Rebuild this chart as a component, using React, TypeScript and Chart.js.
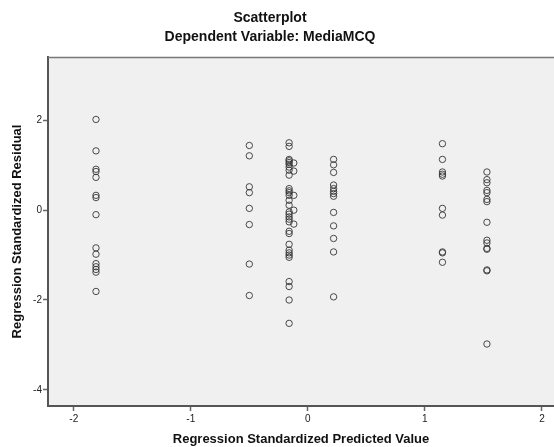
import React, { useEffect, useRef } from "react";
import { Chart, registerables } from "chart.js";

Chart.register(...registerables);

const chartTitle = "Scatterplot";
const chartSubtitle = "Dependent Variable: MediaMCQ";
const xAxisTitle = "Regression Standardized Predicted Value";
const yAxisTitle = "Regression Standardized Residual";

const xTickValues = [-2, -1, 0, 1, 2];
const yTickValues = [-4, -2, 0, 2];

const predictedGroups = [-1.81, -0.5, -0.16, -0.12, 0.22, 1.15, 1.53];

const residualsG1 = [2.02, 1.32, 0.91, 0.86, 0.73, 0.33, 0.28, -0.1, -0.84, -0.98, -1.19, -1.26, -1.32, -1.38, -1.81];
const residualsG2 = [1.44, 1.21, 0.52, 0.39, 0.04, -0.32, -1.2, -1.9];
const residualsG3 = [1.5, 1.42, 1.13, 1.1, 1.06, 1.02, 0.96, 0.89, 0.78, 0.48, 0.43, 0.39, 0.33, 0.22, 0.11, -0.04, -0.09, -0.15, -0.2, -0.26, -0.47, -0.52, -0.76, -0.89, -0.95, -1.0, -1.05, -1.59, -1.7, -2.0, -2.52];
const residualsG4 = [1.05, 0.87, 0.33, 0.0, -0.31];
const residualsG5 = [1.13, 1.01, 0.84, 0.56, 0.48, 0.42, 0.37, 0.31, -0.05, -0.35, -0.63, -0.93, -1.93];
const residualsG6 = [1.48, 1.13, 0.85, 0.8, 0.76, 0.04, -0.11, -0.93, -0.95, -1.16];
const residualsG7 = [0.85, 0.68, 0.61, 0.44, 0.39, 0.24, 0.19, -0.27, -0.67, -0.73, -0.85, -0.87, -1.33, -1.35, -2.98];

const residualGroups = [residualsG1, residualsG2, residualsG3, residualsG4, residualsG5, residualsG6, residualsG7];

const FONT = "'Liberation Sans', Arial, sans-serif";

export default function App() {
  const canvasRef = useRef<HTMLCanvasElement | null>(null);

  useEffect(() => {
    document.body.style.margin = "0";
    const canvas = canvasRef.current;
    if (!canvas) return;

    const points: { x: number; y: number }[] = [];
    predictedGroups.forEach((px, i) => {
      residualGroups[i].forEach((r) => points.push({ x: px, y: r }));
    });

    const framePlugin = {
      id: "frame",
      beforeDraw(chart: any) {
        const { ctx, chartArea, width, height } = chart;
        ctx.save();
        ctx.fillStyle = "#ffffff";
        ctx.fillRect(0, 0, width, height);
        ctx.fillStyle = "#f0f0f0";
        ctx.fillRect(chartArea.left, chartArea.top, chartArea.right - chartArea.left, chartArea.bottom - chartArea.top);
        ctx.fillStyle = "#111";
        ctx.textAlign = "center";
        ctx.textBaseline = "middle";
        ctx.font = `bold 14px ${FONT}`;
        ctx.fillText(chartTitle, 270, 18);
        ctx.fillText(chartSubtitle, 270, 37);
        ctx.restore();
      },
      afterDraw(chart: any) {
        const { ctx, chartArea } = chart;
        ctx.save();
        ctx.strokeStyle = "#777";
        ctx.lineWidth = 1.5;
        ctx.beginPath();
        ctx.moveTo(chartArea.left, chartArea.top + 0.5);
        ctx.lineTo(chartArea.right, chartArea.top + 0.5);
        ctx.stroke();
        ctx.restore();
      },
    };

    const chart = new Chart(canvas, {
      type: "scatter",
      data: {
        datasets: [
          {
            data: points,
            pointRadius: 3.2,
            pointHoverRadius: 3.2,
            pointBorderWidth: 1,
            pointBorderColor: "rgba(55,55,55,0.9)",
            pointBackgroundColor: "rgba(0,0,0,0)",
            showLine: false,
            clip: false,
          },
        ],
      },
      options: {
        responsive: false,
        animation: false,
        devicePixelRatio: 1,
        layout: { autoPadding: false, padding: { top: 57, left: 0, right: 0, bottom: 0 } },
        plugins: { legend: { display: false }, tooltip: { enabled: false }, title: { display: false } },
        scales: {
          x: {
            type: "linear",
            min: -2.22,
            max: 2.103,
            afterFit: (scale: any) => {
              scale.height = 41;
            },
            afterBuildTicks: (scale: any) => {
              scale.ticks = xTickValues.map((v) => ({ value: v }));
            },
            grid: { display: true, drawOnChartArea: false, drawTicks: true, tickLength: 5, tickColor: "#666", tickWidth: 1.5 },
            border: { display: true, color: "#555", width: 2 },
            ticks: { color: "#222", padding: 2, font: { size: 10, family: FONT }, maxRotation: 0 },
            title: {
              display: true,
              text: xAxisTitle,
              color: "#111",
              font: { size: 13, weight: "bold", family: FONT },
              padding: { top: 0, bottom: 0 },
            },
          },
          y: {
            type: "linear",
            min: -4.36,
            max: 3.41,
            afterFit: (scale: any) => {
              scale.width = 48;
            },
            afterBuildTicks: (scale: any) => {
              scale.ticks = yTickValues.map((v) => ({ value: v }));
            },
            grid: { display: true, drawOnChartArea: false, drawTicks: true, tickLength: 5, tickColor: "#666", tickWidth: 1.5 },
            border: { display: true, color: "#555", width: 2 },
            ticks: { color: "#222", padding: 1, font: { size: 10, family: FONT } },
            title: {
              display: true,
              text: yAxisTitle,
              color: "#111",
              font: { size: 13, weight: "bold", family: FONT },
              padding: { top: 10, bottom: 0 },
            },
          },
        },
      },
      plugins: [framePlugin],
    });

    return () => chart.destroy();
  }, []);

  return (
    <div style={{ width: 554, height: 447 }}>
      <canvas ref={canvasRef} width={554} height={447} style={{ display: "block" }} />
    </div>
  );
}
